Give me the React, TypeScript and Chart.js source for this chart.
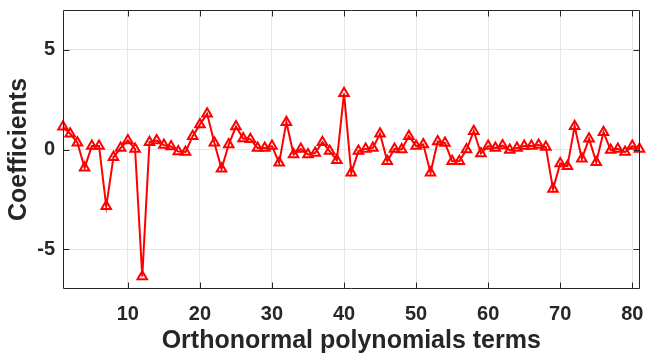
import React, { useEffect, useRef } from "react";
import { Chart, registerables } from "chart.js";

Chart.register(...registerables);

const terms: number[] = [
  1, 2, 3, 4, 5, 6, 7, 8, 9, 10, 11, 12, 13, 14, 15, 16, 17, 18, 19, 20,
  21, 22, 23, 24, 25, 26, 27, 28, 29, 30, 31, 32, 33, 34, 35, 36, 37, 38, 39, 40,
  41, 42, 43, 44, 45, 46, 47, 48, 49, 50, 51, 52, 53, 54, 55, 56, 57, 58, 59, 60,
  61, 62, 63, 64, 65, 66, 67, 68, 69, 70, 71, 72, 73, 74, 75, 76, 77, 78, 79, 80, 81,
];

const coefficients: number[] = [
  1.14, 0.79, 0.34, -0.92, 0.17, 0.17, -2.85, -0.39, 0.08, 0.45,
  0.03, -6.37, 0.37, 0.45, 0.22, 0.15, -0.1, -0.12, 0.67, 1.26,
  1.79, 0.34, -0.97, 0.25, 1.15, 0.55, 0.52, 0.08, 0.08, 0.17,
  -0.67, 1.37, -0.25, 0.03, -0.25, -0.17, 0.37, -0.08, -0.54, 2.82,
  -1.17, -0.08, 0.03, 0.08, 0.79, -0.59, 0.03, 0.0, 0.67, 0.17,
  0.25, -1.17, 0.4, 0.33, -0.59, -0.59, 0.0, 0.92, -0.2, 0.17,
  0.08, 0.2, -0.03, 0.08, 0.17, 0.17, 0.22, 0.12, -1.98, -0.7,
  -0.84, 1.17, -0.47, 0.54, -0.64, 0.87, -0.03, 0.03, -0.13, 0.17, 0.03,
];

const xTicks: number[] = [10, 20, 30, 40, 50, 60, 70, 80];
const yTicks: number[] = [-5, 0, 5];
const xRange: number[] = [1, 81];
const yRange: number[] = [-7, 7];

const AXIS = "#262626";
const FONT = "'Liberation Sans', Arial, Helvetica, sans-serif";

const boxPlugin = {
  id: "matlabBox",
  afterDraw(chart: any) {
    const { ctx, chartArea, scales } = chart;
    const l = Math.round(chartArea.left) + 0.5;
    const r = Math.round(chartArea.right) - 0.5;
    const t = Math.round(chartArea.top) + 0.5;
    const b = Math.round(chartArea.bottom) - 0.5;
    const tl = 6;
    ctx.save();
    ctx.strokeStyle = AXIS;
    ctx.lineWidth = 1;
    ctx.beginPath();
    ctx.rect(l, t, r - l, b - t);
    scales.x.ticks.forEach((tk: any) => {
      const px = Math.round(scales.x.getPixelForValue(tk.value)) + 0.5;
      ctx.moveTo(px, b);
      ctx.lineTo(px, b - tl);
      ctx.moveTo(px, t);
      ctx.lineTo(px, t + tl);
    });
    scales.y.ticks.forEach((tk: any) => {
      const py = Math.round(scales.y.getPixelForValue(tk.value)) + 0.5;
      ctx.moveTo(l, py);
      ctx.lineTo(l + tl, py);
      ctx.moveTo(r, py);
      ctx.lineTo(r - tl, py);
    });
    ctx.stroke();
    ctx.restore();
  },
};

const noPad = (s: any) => {
  s.paddingTop = 0;
  s.paddingBottom = 0;
  s.paddingLeft = 0;
  s.paddingRight = 0;
};

export default function App() {
  const ref = useRef<HTMLCanvasElement | null>(null);

  useEffect(() => {
    if (!ref.current) return;
    const points = terms.map((t, i) => ({ x: t, y: coefficients[i] }));
    const chart = new Chart(ref.current, {
      type: "line",
      data: {
        datasets: [
          {
            data: points,
            borderColor: "#ff0000",
            borderWidth: 2,
            backgroundColor: "rgba(0,0,0,0)",
            pointStyle: "triangle",
            pointRadius: 5.5,
            pointBorderWidth: 2,
            pointBorderColor: "#ff0000",
            pointBackgroundColor: "rgba(0,0,0,0)",
            tension: 0,
            clip: false as any,
          },
        ],
      },
      options: {
        responsive: false,
        animation: false,
        devicePixelRatio: 1,
        layout: { padding: { top: 10, right: 5, left: 0, bottom: 0 } },
        plugins: {
          legend: { display: false },
          tooltip: { enabled: false },
        },
        scales: {
          x: {
            type: "linear",
            min: xRange[0],
            max: xRange[1],
            afterBuildTicks: (s: any) => {
              s.ticks = xTicks.map((v) => ({ value: v }));
            },
            afterFit: (s: any) => {
              s.height = 67;
              noPad(s);
            },
            ticks: {
              color: AXIS,
              font: { family: FONT, size: 20, weight: "bold" },
              padding: 13,
              maxRotation: 0,
              autoSkip: false,
            },
            grid: { color: "#e6e6e6", drawTicks: false, lineWidth: 1 },
            border: { display: false },
            title: {
              display: true,
              text: "Orthonormal polynomials terms",
              color: AXIS,
              font: { family: FONT, size: 25, weight: "bold", lineHeight: 1.2 },
              padding: { top: 0, bottom: 0 },
            },
          },
          y: {
            type: "linear",
            min: yRange[0],
            max: yRange[1],
            afterBuildTicks: (s: any) => {
              s.ticks = yTicks.map((v) => ({ value: v }));
            },
            afterFit: (s: any) => {
              s.width = 63;
              noPad(s);
            },
            ticks: {
              color: AXIS,
              font: { family: FONT, size: 20, weight: "bold" },
              padding: 8,
              autoSkip: false,
            },
            grid: { color: "#e6e6e6", drawTicks: false, lineWidth: 1 },
            border: { display: false },
            title: {
              display: true,
              text: "Coefficients",
              color: AXIS,
              font: { family: FONT, size: 25, weight: "bold", lineHeight: 1.2 },
              padding: { top: 4, bottom: 0 },
            },
          },
        },
      },
      plugins: [boxPlugin],
    });
    return () => chart.destroy();
  }, []);

  return (
    <div style={{ position: "fixed", left: 0, top: 0, width: 647, height: 356, background: "#fff" }}>
      <canvas ref={ref} width={647} height={356} style={{ width: 647, height: 356 }} />
    </div>
  );
}
